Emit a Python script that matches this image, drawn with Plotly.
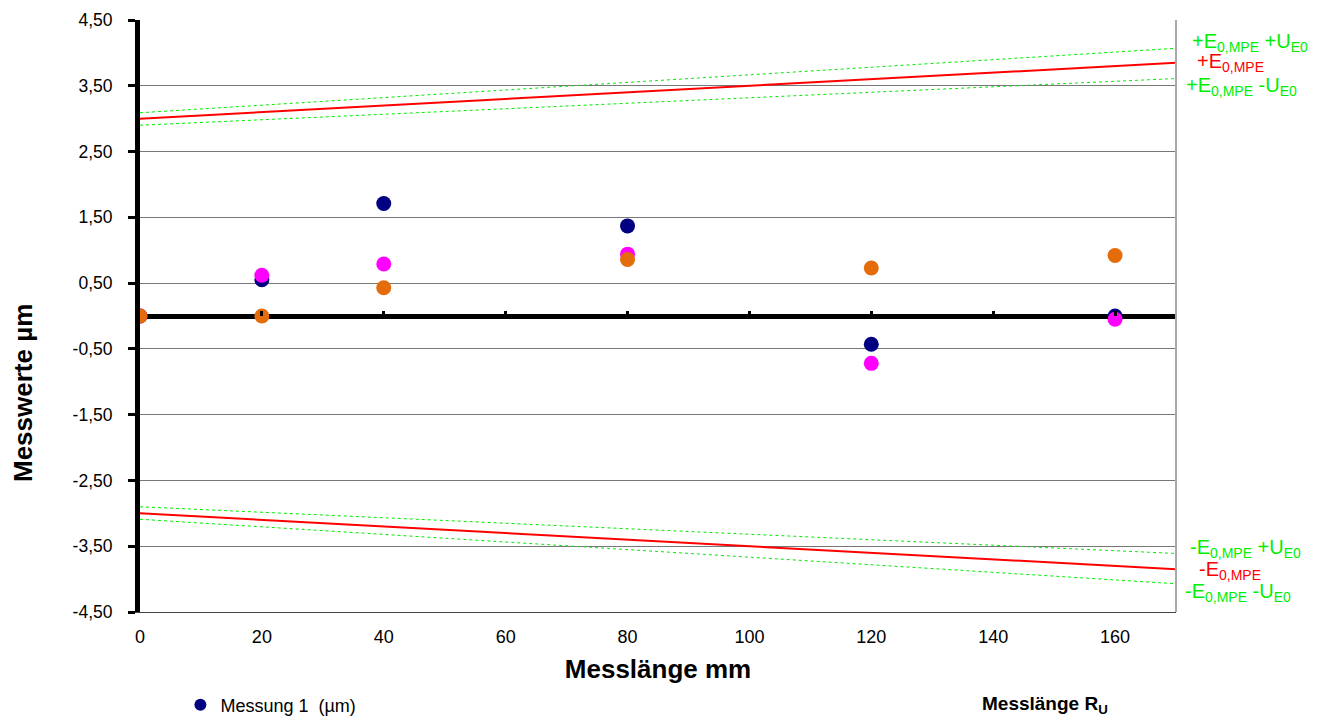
import plotly.graph_objects as go

# Data
x_mess = [0, 20, 40, 80, 120, 160]
mess1 = [0.0, 0.55, 1.71, 1.37, -0.43, 0.0]
mess2 = [0.0, 0.62, 0.79, 0.94, -0.72, -0.05]
mess3 = [0.0, 0.0, 0.43, 0.86, 0.73, 0.92]

x_lim = [0, 170]
e_plus = [3.0, 3.85]
e_plus_u_plus = [3.09, 4.07]
e_plus_u_minus = [2.90, 3.61]
e_minus = [-3.0, -3.85]
e_minus_u_plus = [-2.90, -3.61]
e_minus_u_minus = [-3.09, -4.07]

y_ticks = [-4.5, -3.5, -2.5, -1.5, -0.5, 0.5, 1.5, 2.5, 3.5, 4.5]
y_tick_text = [f"{v:.2f}".replace(".", ",") for v in y_ticks]
x_ticks = [0, 20, 40, 60, 80, 100, 120, 140, 160]

FONT = "Liberation Sans, Arial, sans-serif"
GREEN = "#00EE00"
RED = "#FF0000"

fig = go.Figure()

for yv in [e_plus_u_plus, e_plus_u_minus, e_minus_u_plus, e_minus_u_minus]:
    fig.add_trace(go.Scatter(x=x_lim, y=yv, mode="lines", showlegend=False,
                             line=dict(color=GREEN, width=1, dash="dot"), hoverinfo="skip"))
for yv in [e_plus, e_minus]:
    fig.add_trace(go.Scatter(x=x_lim, y=yv, mode="lines", showlegend=False,
                             line=dict(color=RED, width=2), hoverinfo="skip"))

fig.add_trace(go.Scatter(x=x_mess, y=mess1, mode="markers", name="Messung 1&nbsp;&nbsp;(µm)",
                         marker=dict(color="#000080", size=15)))
fig.add_trace(go.Scatter(x=x_mess, y=mess2, mode="markers", name="Messung 2  (µm)", showlegend=False,
                         marker=dict(color="#FF00FF", size=15)))
fig.add_trace(go.Scatter(x=x_mess, y=mess3, mode="markers", name="Messung 3  (µm)", showlegend=False,
                         marker=dict(color="#E46C0A", size=15)))

# invisible trace for the top-side tick axis on the zero line
fig.add_trace(go.Scatter(x=x_lim, y=[0, 0], xaxis="x2", mode="lines", showlegend=False,
                         line=dict(width=0), hoverinfo="skip"))

# page has an 8px body margin; figure is sized so the plot area lands at page x 140-1176, y 20-612
fig.update_layout(
    width=1305, height=708,
    margin=dict(l=132, r=137, t=12, b=104, autoexpand=False),
    paper_bgcolor="white", plot_bgcolor="white",
    font=dict(family=FONT, size=15, color="black"),
    xaxis=dict(range=x_lim, tickvals=x_ticks, showgrid=False, zeroline=False,
               showline=True, linecolor="#444", linewidth=1, ticks="",
               tickfont=dict(size=18), ticklabelstandoff=8, automargin=False,
               title=dict(text="<b>Messlänge mm</b>", font=dict(size=26), standoff=14)),
    xaxis2=dict(range=x_lim, overlaying="x", anchor="free", position=0.5, side="top",
                tickvals=x_ticks[1:], ticks="outside", ticklen=5, tickwidth=3, tickcolor="black",
                showticklabels=False, showgrid=False, zeroline=False, showline=False),
    yaxis=dict(range=[-4.5, 4.5], tickvals=y_ticks, ticktext=y_tick_text,
               showgrid=True, gridcolor="#777", gridwidth=1,
               zeroline=True, zerolinecolor="black", zerolinewidth=5,
               showline=True, linecolor="black", linewidth=5,
               ticks="outside", ticklen=7, tickwidth=3, tickcolor="black",
               tickfont=dict(size=17.5), ticklabelstandoff=12, automargin=False),
    legend=dict(orientation="h", x=0.039, y=-0.157, xanchor="left", yanchor="middle",
                font=dict(size=18), itemwidth=30, itemsizing="constant",
                bgcolor="rgba(0,0,0,0)"),
    shapes=[
        dict(type="line", xref="paper", yref="paper", x0=1, x1=1, y0=0, y1=1,
             line=dict(color="#A8A8A8", width=2)),
    ],
)

def ypix(p):
    return (612 - p) / 592

def xpix(p):
    return (p - 140) / 1036

labels = [
    ("+E<sub>0,MPE</sub> +U<sub>E0</sub>", GREEN, 1190, 42),
    ("+E<sub>0,MPE</sub>", RED, 1195, 63),
    ("+E<sub>0,MPE</sub> -U<sub>E0</sub>", GREEN, 1184, 86),
    ("-E<sub>0,MPE</sub> +U<sub>E0</sub>", GREEN, 1188, 548),
    ("-E<sub>0,MPE</sub>", RED, 1197, 570),
    ("-E<sub>0,MPE</sub> -U<sub>E0</sub>", GREEN, 1183, 592),
]
for text, col, px, py in labels:
    fig.add_annotation(x=xpix(px), y=ypix(py), xref="paper", yref="paper", text=text,
                       showarrow=False, xanchor="left", yanchor="middle",
                       font=dict(size=20, color=col, family=FONT))

fig.add_annotation(x=xpix(23), y=ypix(393), xref="paper", yref="paper",
                   text="<b>Messwerte µm</b>", showarrow=False, textangle=-90,
                   xanchor="center", yanchor="middle", font=dict(size=26, color="black", family=FONT))

fig.add_annotation(x=xpix(980), y=ypix(705), xref="paper", yref="paper",
                   text="<b>Messlänge R<sub>U</sub></b>", showarrow=False,
                   xanchor="left", yanchor="middle", font=dict(size=19, color="black", family=FONT))

fig.write_html("out.html")
